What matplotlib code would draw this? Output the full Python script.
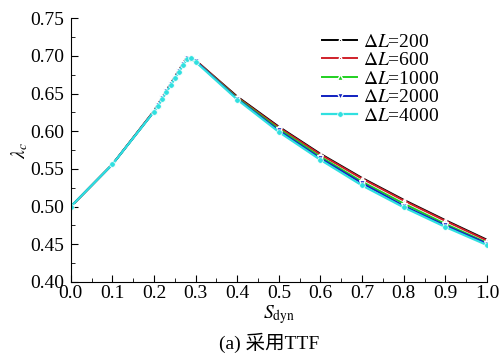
import matplotlib
matplotlib.use('Agg')
import matplotlib.pyplot as plt
from matplotlib.ticker import MultipleLocator

plt.rcParams['font.family'] = ['Liberation Serif', 'Noto Sans CJK SC']
plt.rcParams['mathtext.fontset'] = 'stix'

s_dyn = [0.0, 0.1, 0.2, 0.21, 0.22, 0.23, 0.24, 0.25, 0.26, 0.27, 0.28,
         0.29, 0.3, 0.4, 0.5, 0.6, 0.7, 0.8, 0.9, 1.0]

lam_200 = [0.500, 0.556, 0.627, 0.636, 0.645, 0.654, 0.663, 0.672, 0.681, 0.690, 0.699,
           0.697, 0.694, 0.646, 0.606, 0.570, 0.538, 0.509, 0.482, 0.456]
lam_600 = [0.500, 0.556, 0.627, 0.636, 0.645, 0.654, 0.663, 0.672, 0.681, 0.690, 0.699,
           0.697, 0.694, 0.645, 0.605, 0.569, 0.537, 0.508, 0.481, 0.455]
lam_1000 = [0.500, 0.556, 0.626, 0.635, 0.644, 0.653, 0.662, 0.671, 0.680, 0.689, 0.697,
            0.696, 0.693, 0.644, 0.603, 0.566, 0.533, 0.504, 0.477, 0.452]
lam_2000 = [0.500, 0.556, 0.626, 0.635, 0.644, 0.653, 0.662, 0.671, 0.680, 0.689, 0.697,
            0.696, 0.693, 0.643, 0.601, 0.564, 0.531, 0.501, 0.475, 0.451]
lam_4000 = [0.500, 0.556, 0.626, 0.634, 0.643, 0.652, 0.661, 0.670, 0.679, 0.688, 0.696,
            0.697, 0.692, 0.642, 0.599, 0.562, 0.528, 0.499, 0.473, 0.449]

labels = [r'$\Delta L$=200', r'$\Delta L$=600', r'$\Delta L$=1000',
          r'$\Delta L$=2000', r'$\Delta L$=4000']

fig = plt.figure(figsize=(5.02, 3.56), dpi=100)
ax = fig.add_axes([0.141, 0.208, 0.829, 0.741])

mk = dict(mec='white', mew=1.0, lw=1.4)
ax.plot(s_dyn, lam_200, color='black', marker='.', ms=3.5, label=labels[0], **mk)
ax.plot(s_dyn, lam_600, color='#d0202a', marker='.', ms=3.5, label=labels[1], **mk)
ax.plot(s_dyn, lam_1000, color='#20d020', marker='^', ms=4, label=labels[2], **mk)
ax.plot(s_dyn, lam_2000, color='#1020c0', marker='v', ms=4, label=labels[3], **mk)
ax.plot(s_dyn, lam_4000, color='#30e0e0', marker='o', ms=4, label=labels[4],
        mec='white', mew=0.5, lw=1.6)

ax.set_xlim(0, 1.0)
ax.set_ylim(0.40, 0.75)
ax.xaxis.set_major_locator(MultipleLocator(0.1))
ax.xaxis.set_minor_locator(MultipleLocator(0.05))
ax.yaxis.set_major_locator(MultipleLocator(0.05))
ax.yaxis.set_minor_locator(MultipleLocator(0.025))
ax.tick_params(which='both', direction='in', labelsize=14)
ax.tick_params(axis='x', pad=2)
ax.tick_params(axis='y', pad=5)
ax.tick_params(which='major', length=5)
ax.tick_params(which='minor', length=3)
for s in ['top', 'right']:
    ax.spines[s].set_visible(False)

ax.set_xlabel(r'$S_{\rm dyn}$', fontsize=14, labelpad=1)
ax.set_ylabel(r'$\lambda_c$', fontsize=14, labelpad=0)

leg = ax.legend(loc='upper left', bbox_to_anchor=(0.571, 0.995), frameon=False,
                fontsize=14, handlelength=1.8, labelspacing=0.05, handletextpad=0.3,
                borderpad=0.2)

fig.text(0.536, 0.02, '(a) 采用TTF', ha='center', fontsize=14)

fig.savefig('out.png', dpi=100)
